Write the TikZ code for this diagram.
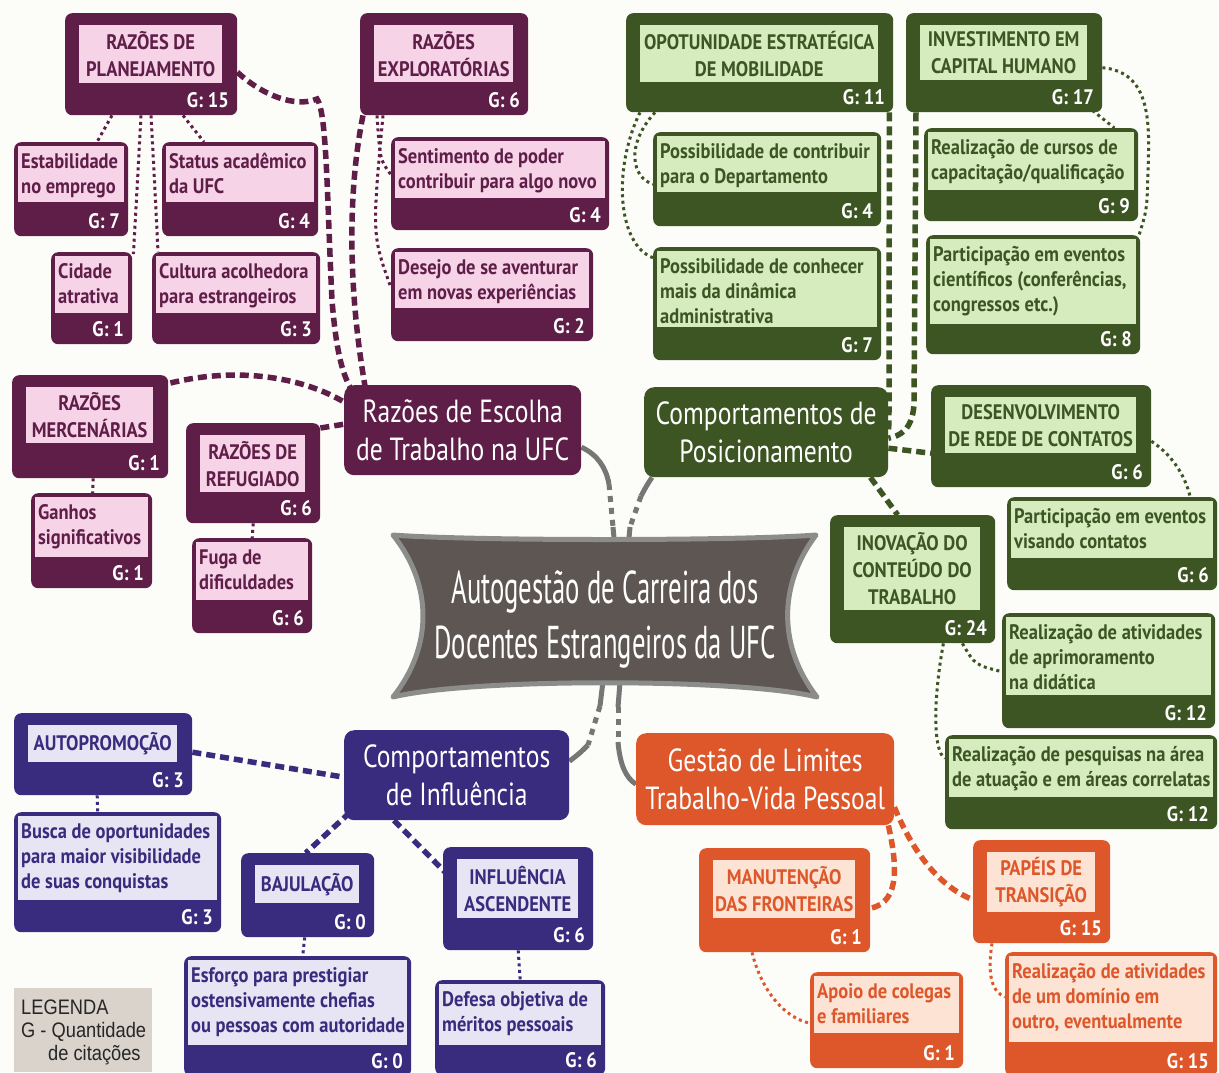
\documentclass[tikz,border=0pt]{standalone}
\usepackage{fontspec}
\setmainfont{PT Sans}[FakeStretch=0.88]
\newfontfamily\mainf{PT Sans}[FakeStretch=0.8]
\newfontfamily\titlef{PT Sans}[FakeStretch=0.58]
\newfontfamily\legf{Liberation Sans}[FakeStretch=0.87]
\usetikzlibrary{calc}
\definecolor{purD}{RGB}{95,30,72}
\definecolor{purL}{RGB}{247,211,232}
\definecolor{grnD}{RGB}{60,85,35}
\definecolor{grnL}{RGB}{214,236,190}
\definecolor{bluD}{RGB}{57,43,125}
\definecolor{bluL}{RGB}{231,228,244}
\definecolor{orD}{RGB}{221,87,42}
\definecolor{orL}{RGB}{252,227,212}
\definecolor{ctrF}{RGB}{93,86,82}
\definecolor{ctrB}{RGB}{140,140,138}
\definecolor{conG}{RGB}{118,118,118}
\definecolor{bgc}{RGB}{252,252,249}
\definecolor{legF}{RGB}{217,211,204}
\definecolor{legT}{RGB}{38,38,38}
\colorlet{dk}{purD}\colorlet{lt}{purL}
\pgfdeclarelayer{back}\pgfdeclarelayer{conn}
\pgfsetlayers{back,conn,main}
\newcommand{\sr}{\rule{0pt}{18pt}}
% name x1 y1 x2 y2 lightbottom text G
\newcommand{\leafbox}[8]{%
  \node[outerbox, minimum width={#4-#2}, minimum height={#5-#3}] (#1) at (#2,#3) {};
  \fill[lt] (#2+4,#3+4) rectangle (#4-4,#6);
  \node[leaftext] (#1t) at (#2+7,#3+8) {\sr #7};
  \node[gtext] (#1g) at (#4-8,#5-8) {G: #8};
}
\newcommand{\catbox}[8]{%
  \node[outerbox, minimum width={#4-#2}, minimum height={#5-#3}] (#1) at (#2,#3) {};
  \node[cattext, minimum width={#4-#2-29}, minimum height={#6-#3-12}] (#1t) at (#2+14,#3+12) {#7};
  \node[gtext] (#1g) at (#4-8,#5-8) {G: #8};
}
\newcommand{\mainbox}[6]{%
  \node[mainnode, minimum width={#4-#2}, minimum height={#5-#3}] (#1) at (#2,#3) {#6};
}
\begin{document}
\begin{tikzpicture}[x=1pt,y=-1pt,
  outerbox/.style={rounded corners=7pt, inner sep=0pt, draw=none, fill=dk, anchor=north west},
  leaftext/.style={font=\bfseries\fontsize{21}{25}\selectfont, inner sep=0pt, align=left, anchor=north west, text=dk},
  cattext/.style={font=\bfseries\fontsize{21}{27}\selectfont, align=center, inner sep=0pt, fill=lt, text=dk, anchor=north west},
  gtext/.style={font=\bfseries\fontsize{21}{22}\selectfont, text=white, inner sep=0pt, anchor=base east},
  mainnode/.style={rounded corners=10pt, fill=dk, text=white, align=center, font=\mainf\fontsize{32}{38}\selectfont, inner sep=0pt, anchor=north west},
  bigdash/.style={line width=5.5pt, dash pattern=on 9pt off 5pt},
  smalldot/.style={line width=3pt, dash pattern=on 3pt off 3.5pt},
  graysolid/.style={conG, line width=5pt},
  graydot/.style={conG, line width=5pt, dash pattern=on 6pt off 6pt},
]
\begin{pgfonlayer}{back}
\fill[bgc] (0,0) rectangle (1219,1072);
\end{pgfonlayer}
\useasboundingbox (0,0) rectangle (1219,1072);
\clip (0,0) rectangle (1219,1072);

% ---------------- purple group
\colorlet{dk}{purD}\colorlet{lt}{purL}
\catbox{plan}{65}{13}{237}{115}{83}{RAZÕES DE\\PLANEJAMENTO}{15}
\catbox{expl}{360}{13}{528}{115}{82}{RAZÕES\\EXPLORATÓRIAS}{6}
\leafbox{estab}{14}{142}{128}{236}{202}{Estabilidade\\no emprego}{7}
\leafbox{status}{162}{142}{318}{236}{202}{Status acadêmico\\da UFC}{4}
\leafbox{cidade}{51}{252}{132}{344}{313}{Cidade\\atrativa}{1}
\leafbox{cultura}{152}{252}{320}{344}{313}{Cultura acolhedora\\para estrangeiros}{3}
\leafbox{sent}{391}{137}{609}{230}{198}{Sentimento de poder\\contribuir para algo novo}{4}
\leafbox{desejo}{391}{248}{593}{341}{308}{Desejo de se aventurar\\em novas experiências}{2}
\catbox{merc}{12}{375}{168}{478}{443}{RAZÕES\\MERCENÁRIAS}{1}
\leafbox{ganhos}{31}{493}{152}{588}{557}{Ganhos\\significativos}{1}
\catbox{ref}{186}{423}{320}{523}{492}{RAZÕES DE\\REFUGIADO}{6}
\leafbox{fuga}{192}{538}{312}{633}{600}{Fuga de\\dificuldades}{6}
\mainbox{raz}{344}{385}{581}{475}{Razões de Escolha\\de Trabalho na UFC}

% ---------------- green group
\colorlet{dk}{grnD}\colorlet{lt}{grnL}
\catbox{opo}{626}{13}{893}{112}{82}{OPOTUNIDADE ESTRATÉGICA\\DE MOBILIDADE}{11}
\catbox{inv}{906}{13}{1102}{112}{80}{INVESTIMENTO EM\\CAPITAL HUMANO}{17}
\leafbox{contrib}{653}{132}{881}{226}{192}{Possibilidade de contribuir\\para o Departamento}{4}
\leafbox{conhecer}{653}{247}{881}{360}{327}{Possibilidade de conhecer\\mais da dinâmica\\administrativa}{7}
\leafbox{cursos}{924}{128}{1138}{221}{190}{Realização de cursos de\\capacitação/qualificação}{9}
\leafbox{cient}{926}{235}{1140}{354}{324}{Participação em eventos\\científicos (conferências,\\congressos etc.)}{8}
\mainbox{pos}{644}{387}{888}{477}{Comportamentos de\\Posicionamento}
\catbox{desenv}{931}{385}{1151}{487}{453}{DESENVOLVIMENTO\\DE REDE DE CONTATOS}{6}
\leafbox{contatos}{1007}{497}{1217}{590}{558}{Participação em eventos\\visando contatos}{6}
\catbox{inov}{830}{515}{995}{643}{610}{INOVAÇÃO DO\\CONTEÚDO DO\\TRABALHO}{24}
\leafbox{aprim}{1002}{613}{1215}{728}{695}{Realização de atividades\\de aprimoramento\\na didática}{12}
\leafbox{pesq}{945}{735}{1217}{829}{797}{Realização de pesquisas na área\\de atuação e em áreas correlatas}{12}

% ---------------- blue group
\colorlet{dk}{bluD}\colorlet{lt}{bluL}
\catbox{auto}{14}{713}{192}{795}{762}{AUTOPROMOÇÃO}{3}
\leafbox{busca}{14}{812}{221}{932}{900}{Busca de oportunidades\\para maior visibilidade\\de suas conquistas}{3}
\mainbox{infl}{344}{730}{569}{820}{Comportamentos\\de Influência}
\catbox{baju}{241}{853}{374}{937}{903}{BAJULAÇÃO}{0}
\catbox{asc}{443}{847}{593}{950}{918}{INFLUÊNCIA\\ASCENDENTE}{6}
\leafbox{esforco}{184}{956}{411}{1076}{1045}{Esforço para prestigiar\\ostensivamente chefias\\ou pessoas com autoridade}{0}
\leafbox{defesa}{435}{980}{605}{1075}{1045}{Defesa objetiva de\\méritos pessoais}{6}

% ---------------- orange group
\colorlet{dk}{orD}\colorlet{lt}{orL}
\mainbox{gest}{636}{733}{894}{825}{Gestão de Limites\\Trabalho-Vida Pessoal}
\catbox{manut}{699}{848}{870}{952}{918}{MANUTENÇÃO\\DAS FRONTEIRAS}{1}
\catbox{papeis}{973}{840}{1110}{943}{912}{PAPÉIS DE\\TRANSIÇÃO}{15}
\leafbox{apoio}{810}{972}{963}{1068}{1033}{Apoio de colegas\\e familiares}{1}
\leafbox{dominio}{1005}{952}{1217}{1076}{1042}{Realização de atividades\\de um domínio em\\outro, eventualmente}{15}

% ---------------- centre banner
\path[draw=ctrB, line width=5pt, fill=ctrF, line join=round]
  (393,535) .. controls (470,541) and (740,541) .. (816,535)
  .. controls (778,585) and (778,647) .. (817,697)
  .. controls (740,678) and (470,678) .. (393,697)
  .. controls (433,647) and (433,585) .. (393,535) -- cycle;
\node[minimum width=424, minimum height=162, inner sep=0pt] (ctr) at (605,616) {};
\node[text=white, font=\titlef\fontsize{46}{55}\selectfont, align=center, inner sep=0pt] (ctrtext) at (605,619) {Autogestão de Carreira dos\\Docentes Estrangeiros da UFC};

% ---------------- legend
\node[fill=legF, minimum width=138, minimum height=84, inner sep=0pt, anchor=north west] (leg) at (14,988) {};
\node[text=legT, font=\legf\fontsize{21}{23}\selectfont, align=left, inner sep=0pt, anchor=north west] (legtext) at (21,1000) {LEGENDA\\G - Quantidade\\\hspace*{27pt}de citações};

% ---------------- connectors
\begin{pgfonlayer}{conn}
% centre
\coordinate (g1a) at (609,484); \coordinate (g1b) at (613,527);
\draw[graysolid] ($(raz.east)+(0,17)$) .. controls (598,455) and (606,468) .. (g1a);
\draw[graydot] (g1a) -- (g1b);
\draw[graysolid] (g1b) -- ($(ctr.north)+(9,3)$);
\coordinate (g2a) at (641,496); \coordinate (g2b) at (630,527);
\draw[graysolid] ($(pos.south west)+(8,0)$) .. controls (647,485) .. (g2a);
\draw[graydot] (g2a) -- (g2b);
\draw[graysolid] (g2b) -- ($(ctr.north)+(24,3)$);
\coordinate (g3a) at (600,706); \coordinate (g3b) at (588,745);
\draw[graysolid] ($(ctr.south)+(-2,-16)$) -- (g3a);
\draw[graydot] (g3a) -- (g3b);
\draw[graysolid] (g3b) .. controls (580,753) .. ($(infl.east)+(0,-14)$);
\coordinate (g4a) at (618,707); \coordinate (g4b) at (618,742);
\draw[graysolid] ($(ctr.south)+(15,-15)$) -- (g4a);
\draw[graydot] (g4a) -- (g4b);
\draw[graysolid] (g4b) .. controls (620,765) and (626,778) .. ($(gest.west)+(0,5)$);

% purple
\draw[bigdash, purD] ($(plan.east)+(0,8)$) .. controls (262,95) and (295,108) .. (317,99)
   .. controls (327,112) and (327,200) .. (332,300) .. controls (336,350) and (342,372) .. ($(raz.north west)+(6,2)$);
\draw[bigdash, purD] ($(expl.south west)+(3,0)$) .. controls (346,200) and (350,300) .. ($(raz.north west)+(21,1)$);
\draw[bigdash, purD] ($(merc.north east)+(2,8)$) .. controls (240,366) and (305,378) .. ($(raz.west)+(2,-27)$);
\draw[bigdash, purD] ($(ref.north east)+(0,5)$) -- ($(raz.west)+(0,-6)$);
\draw[smalldot, purD] ($(plan.south west)+(47,0)$) -- ($(estab.north west)+(83,0)$);
\draw[smalldot, purD] ($(plan.south west)+(76,0)$) .. controls (137,190) .. ($(cidade.north east)+(1,2)$);
\draw[smalldot, purD] ($(plan.south west)+(86,0)$) .. controls (155,190) .. ($(cultura.north west)+(6,0)$);
\draw[smalldot, purD] ($(plan.south west)+(118,0)$) -- ($(status.north west)+(42,0)$);
\draw[smalldot, purD] ($(expl.south west)+(17,0)$) .. controls (380,160) .. ($(sent.west)+(0,-9)$);
\draw[smalldot, purD] ($(expl.south west)+(23,0)$) .. controls (372,235) .. ($(desejo.west)+(0,-7)$);
\draw[smalldot, purD] ($(merc.south)+(3,0)$) -- ($(ganhos.north)+(1,0)$);
\draw[smalldot, purD] (ref.south) -- (fuga.north);

% green
\draw[bigdash, grnD] ($(opo.south east)+(-4,0)$) -- (889,400) .. controls (889,422) .. ($(pos.east)+(0,0)$);
\draw[bigdash, grnD] ($(inv.south west)+(10,0)$) -- (914,405) .. controls (912,430) and (900,436) .. ($(pos.east)+(0,6)$);
\draw[bigdash, grnD] ($(pos.east)+(0,16)$) -- ($(desenv.west)+(0,17)$);
\draw[bigdash, grnD] ($(pos.south east)+(-18,0)$) -- ($(inov.north)+(-15,0)$);
\draw[smalldot, grnD] ($(opo.south west)+(29,0)$) .. controls (625,145) and (632,178) .. ($(contrib.west)+(0,5)$);
\draw[smalldot, grnD] ($(opo.south west)+(14,0)$) .. controls (612,170) and (618,245) .. ($(conhecer.west)+(0,-46)$);
\draw[smalldot, grnD] ($(inv.south east)+(-10,-2)$) -- ($(cursos.north east)+(-24,0)$);
\draw[smalldot, grnD] ($(inv.east)+(0,5)$) .. controls (1150,72) and (1150,120) .. (1148,170) .. controls (1147,210) .. ($(cient.north east)+(-2,2)$);
\draw[smalldot, grnD] ($(desenv.east)+(0,5)$) .. controls (1172,455) and (1185,475) .. ($(contatos.north)+(78,0)$);
\draw[smalldot, grnD] ($(inov.south east)+(-33,0)$) .. controls (975,665) .. ($(aprim.west)+(0,1)$);
\draw[smalldot, grnD] ($(inov.south east)+(-52,0)$) .. controls (933,700) and (933,752) .. ($(pesq.west)+(0,-24)$);

% blue
\draw[bigdash, bluD] ($(auto.east)+(0,-2)$) -- ($(infl.west)+(0,2)$);
\draw[bigdash, bluD] ($(infl.south west)+(6,-8)$) -- ($(baju.north)+(-2,0)$);
\draw[bigdash, bluD] ($(infl.south west)+(50,0)$) -- ($(asc.north west)+(2,25)$);
\draw[smalldot, bluD] ($(auto.south)+(-6,0)$) -- ($(busca.north)+(-20,0)$);
\draw[smalldot, bluD] ($(baju.south)+(-3,0)$) -- ($(esforco.north)+(5,0)$);
\draw[smalldot, bluD] (asc.south) -- (defesa.north);

% orange
\draw[bigdash, orD] ($(gest.south east)+(-6,0)$) .. controls (896,860) and (902,902) .. ($(manut.east)+(0,8)$);
\draw[bigdash, orD] ($(gest.east)+(0,28)$) .. controls (910,845) and (935,885) .. ($(papeis.west)+(0,8)$);
\draw[smalldot, orD] ($(manut.south west)+(53,0)$) .. controls (762,992) and (785,1018) .. ($(apoio.west)+(0,3)$);
\draw[smalldot, orD] ($(papeis.south west)+(19,0)$) .. controls (987,975) and (992,992) .. ($(dominio.north west)+(0,45)$);
\end{pgfonlayer}
\end{tikzpicture}
\end{document}
